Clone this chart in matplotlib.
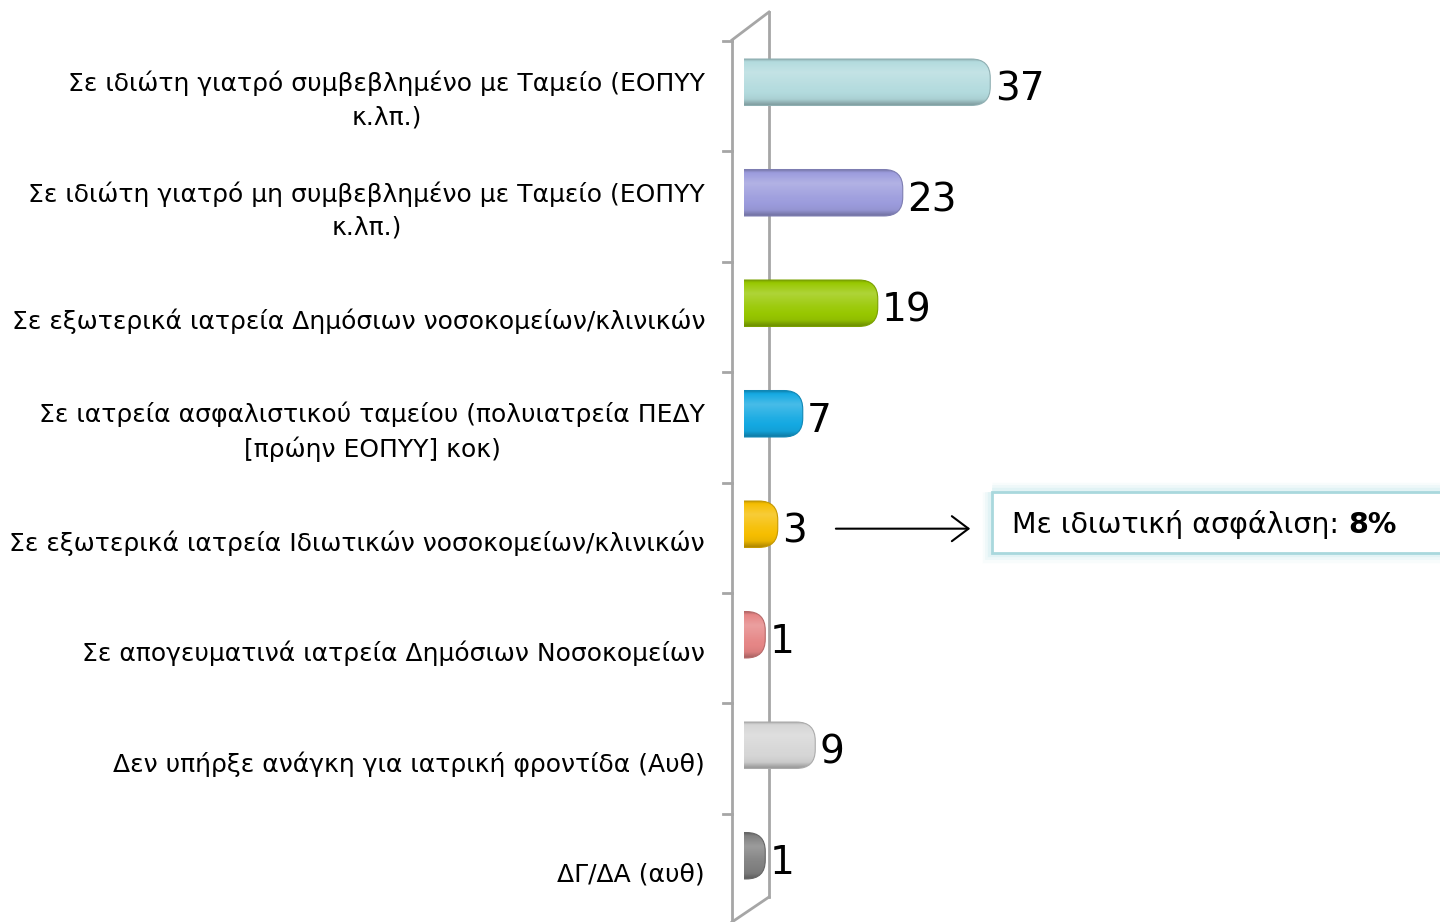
import numpy as np
import matplotlib
matplotlib.use("Agg")
import matplotlib.pyplot as plt
from matplotlib.patches import FancyBboxPatch, Rectangle
from matplotlib.colors import to_rgb
from matplotlib import transforms

labels = [
    "Σε ιδιώτη γιατρό συμβεβλημένο με Ταμείο (ΕΟΠΥΥ\nκ.λπ.)",
    "Σε ιδιώτη γιατρό μη συμβεβλημένο με Ταμείο (ΕΟΠΥΥ\nκ.λπ.)",
    "Σε εξωτερικά ιατρεία Δημόσιων νοσοκομείων/κλινικών",
    "Σε ιατρεία ασφαλιστικού ταμείου (πολυιατρεία ΠΕΔΥ\n[πρώην ΕΟΠΥΥ] κοκ)",
    "Σε εξωτερικά ιατρεία Ιδιωτικών νοσοκομείων/κλινικών",
    "Σε απογευματινά ιατρεία Δημόσιων Νοσοκομείων",
    "Δεν υπήρξε ανάγκη για ιατρική φροντίδα (Αυθ)",
    "ΔΓ/ΔΑ (αυθ)",
]
values = [37, 23, 19, 7, 3, 1, 9, 1]
colors = ["#B3DBDE", "#9C9CDD", "#98C800", "#14A9E2", "#F6BE00",
          "#E58585", "#D6D6D6", "#808080"]
note_text = "Με ιδιωτική ασφάλιση: "
note_value = "8%"
note_row = 4

W, H = 1440, 922
fig = plt.figure(figsize=(W / 100, H / 100), dpi=100)

# background layer in pixel units: the 3d wall and the note box
bg = fig.add_axes([0, 0, 1, 1], zorder=0)
bg.set_xlim(0, W)
bg.set_ylim(H, 0)
bg.axis("off")

wall = "#A6A6A6"
bg.plot([732, 732], [40, 930], color=wall, lw=2)
bg.plot([769, 769], [12, 897], color=wall, lw=2)
bg.plot([732, 769], [40, 12], color=wall, lw=2)
bg.plot([769, 732], [897, 922], color=wall, lw=2)
for k in range(len(values)):
    ty = 41 + k * 110.4
    bg.plot([723, 732], [ty, ty], color=wall, lw=2)

for lw, a in [(14, 0.10), (10, 0.15), (6, 0.25)]:
    bg.add_patch(Rectangle((992, 492), 470, 61, fill=False, ec="#BFE6EA", lw=lw, alpha=a))
bg.add_patch(Rectangle((992, 492), 470, 61, fc="white", ec="#A9D8DD", lw=2))
t1 = bg.text(1012, 524, note_text, fontsize=20.5, va="center", ha="left")
bg.annotate(note_value, xy=(1, 0), xycoords=t1, va="bottom", ha="left",
            fontsize=20.5, fontweight="bold")

# bar axes
x_min = -2.4
px_per_unit = 6.25
ax = fig.add_axes([744 / W, 1 - 911 / H, (W - 744) / W, (911 - 27) / H], zorder=1)
ax.patch.set_alpha(0)
for s in ax.spines.values():
    s.set_visible(False)
ax.set_xticks([])

ax.set_yticks(range(len(values)), labels=labels, fontsize=18)
ax.tick_params(axis="y", length=0, pad=28)
for lab in ax.get_yticklabels():
    dy = -11 if "\n" in lab.get_text() else -16
    lab.set_multialignment("center")
    lab.set_linespacing(1.45)
    lab.set_transform(lab.get_transform() +
                      transforms.ScaledTranslation(0, dy / 100, fig.dpi_scale_trans))

aspect = px_per_unit / ((911 - 27) / len(values))
bar_h = 0.42
# shading profile top -> bottom (positive = toward white, negative = toward black)
t = np.linspace(0, 1, 60)
prof = np.interp(t, [0, 0.07, 0.3, 0.6, 0.88, 1.0], [-0.25, 0.0, 0.22, 0.05, -0.05, -0.28])


def shade(c, p):
    c = np.array(to_rgb(c))
    out = np.where(p[:, None] > 0, c + (1 - c) * p[:, None], c * (1 + p[:, None]))
    return np.clip(out, 0, 1)


for i, (v, c) in enumerate(zip(values, colors)):
    x0 = x_min - 3
    patch = FancyBboxPatch((x0, i - bar_h / 2), v - x0, bar_h,
                           boxstyle="round,pad=0,rounding_size=3.0",
                           mutation_aspect=aspect, fc="none",
                           ec=shade(c, np.array([-0.2]))[0], lw=0.8, zorder=3)
    ax.add_patch(patch)
    grad = shade(c, prof)[:, None, :]
    im = ax.imshow(grad, extent=(x0, v, i + bar_h / 2, i - bar_h / 2),
                   origin="upper", aspect="auto", interpolation="bicubic", zorder=2)
    im.set_clip_path(patch)
    ax.text(v + 0.7, i + 0.07, str(v), fontsize=28, va="center", ha="left")

ax.set_xlim(x_min, x_min + (W - 744) / px_per_unit)
ax.set_ylim(len(values) - 0.5, -0.5)

ax.annotate("", xy=(33.8, note_row + 0.04), xytext=(12.3, note_row + 0.04),
            arrowprops=dict(arrowstyle="->,head_length=0.6,head_width=0.45",
                            mutation_scale=20, color="black", lw=1.5,
                            shrinkA=0, shrinkB=0))

fig.savefig("out.png", dpi=100)
